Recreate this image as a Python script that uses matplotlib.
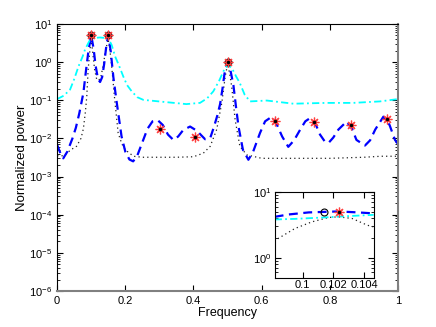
"""Normalized power spectrum estimates with a zoomed inset around f = 0.1."""

import matplotlib.pyplot as plt
from matplotlib import ticker

plt.rcParams['font.family'] = ['Liberation Sans', 'DejaVu Sans']
plt.rcParams['mathtext.default'] = 'regular'

# blue dashed estimate
BLUE_F = [0.0, 0.01, 0.018, 0.03, 0.045, 0.055, 0.065, 0.077, 0.085, 0.092,
          0.1, 0.107, 0.113, 0.12, 0.126, 0.132, 0.138, 0.144, 0.15, 0.157,
          0.165, 0.175, 0.189, 0.2, 0.212, 0.223, 0.235, 0.25, 0.265, 0.28,
          0.295, 0.31, 0.325, 0.341, 0.355, 0.37, 0.39, 0.41, 0.434, 0.449,
          0.46, 0.47, 0.478, 0.485, 0.491, 0.5, 0.508, 0.517, 0.525, 0.532,
          0.545, 0.561, 0.575, 0.595, 0.61, 0.63, 0.645, 0.66, 0.678, 0.695,
          0.713, 0.728, 0.742, 0.757, 0.771, 0.785, 0.796, 0.81, 0.825, 0.849,
          0.865, 0.878, 0.903, 0.918, 0.933, 0.957, 0.975, 0.991, 1.0]
BLUE_P = [0.0068, 0.0040, 0.0030, 0.0045, 0.010, 0.019, 0.045, 0.155, 0.63, 2.0,
          5.0, 2.24, 0.79, 0.355, 0.30, 0.40, 0.89, 2.5, 5.0, 2.0,
          0.40, 0.085, 0.0112, 0.0045, 0.0028, 0.0025, 0.0035, 0.0079, 0.0178, 0.028,
          0.030, 0.0224, 0.0126, 0.0091, 0.0112, 0.0166, 0.0204, 0.0158, 0.0095, 0.0102,
          0.020, 0.040, 0.079, 0.20, 0.50, 1.0, 0.63, 0.25, 0.063, 0.0204,
          0.0050, 0.00275, 0.0045, 0.0138, 0.028, 0.037, 0.0224, 0.0112, 0.0060, 0.0089,
          0.017, 0.028, 0.034, 0.025, 0.0126, 0.0083, 0.0076, 0.0105, 0.017, 0.0275,
          0.0178, 0.0091, 0.0065, 0.0089, 0.017, 0.037, 0.0224, 0.0091, 0.0071]

# black dotted estimate
DOT_F = [0.0, 0.02, 0.04, 0.057, 0.07, 0.077, 0.083, 0.087, 0.091, 0.096,
         0.1, 0.105, 0.11, 0.116, 0.122, 0.128, 0.135, 0.142, 0.15, 0.155,
         0.16, 0.169, 0.179, 0.19, 0.2, 0.224, 0.25, 0.3, 0.35, 0.4,
         0.429, 0.449, 0.468, 0.483, 0.493, 0.5, 0.506, 0.512, 0.522, 0.536,
         0.556, 0.6, 0.7, 0.8, 0.9, 0.95, 1.0]
DOT_P = [0.0035, 0.0035, 0.0050, 0.0062, 0.010, 0.0178, 0.050, 0.126, 0.63, 2.0,
         4.0, 1.6, 0.63, 0.355, 0.33, 0.40, 0.79, 2.0, 4.0, 2.0,
         0.78, 0.102, 0.0138, 0.0071, 0.0050, 0.0034, 0.0032, 0.0032, 0.0032, 0.0033,
         0.0041, 0.0062, 0.017, 0.085, 0.42, 0.89, 0.50, 0.23, 0.031, 0.0062,
         0.0037, 0.0030, 0.0030, 0.0030, 0.0032, 0.0034, 0.0034]

# cyan dash-dot estimate
CYAN_F = [0.0, 0.02, 0.038, 0.05, 0.063, 0.075, 0.082, 0.094, 0.1, 0.125,
          0.15, 0.16, 0.17, 0.182, 0.194, 0.205, 0.219, 0.235, 0.253, 0.32,
          0.379, 0.419, 0.44, 0.458, 0.475, 0.49, 0.502, 0.515, 0.525, 0.536,
          0.55, 0.566, 0.615, 0.693, 0.79, 0.868, 0.947, 1.0]
CYAN_P = [0.107, 0.132, 0.19, 0.355, 0.78, 1.41, 2.14, 3.47, 4.2, 4.4,
          4.2, 2.8, 1.41, 0.79, 0.42, 0.25, 0.17, 0.12, 0.102, 0.089,
          0.079, 0.085, 0.112, 0.17, 0.32, 0.63, 0.85, 0.63, 0.42, 0.28,
          0.14, 0.093, 0.098, 0.081, 0.085, 0.085, 0.093, 0.107]

# true components (circles) and estimated components (asterisks)
TRUE_F = [0.1, 0.15, 0.5]
TRUE_P = [5.0, 5.0, 1.0]
EST_F = [0.1, 0.15, 0.5, 0.303, 0.405, 0.638, 0.753, 0.861, 0.968]
EST_P = [5.0, 5.0, 1.0, 0.018, 0.011, 0.028, 0.027, 0.022, 0.033]

# zoomed inset around the first peak
IN_BLUE_F = [0.0982, 0.0991, 0.1004, 0.1023, 0.1036, 0.1046]
IN_BLUE_P = [4.19, 4.55, 4.89, 5.06, 4.89, 4.72]
IN_CYAN_F = [0.0982, 0.0995, 0.1014, 0.1029, 0.1046]
IN_CYAN_P = [3.82, 3.90, 4.10, 4.29, 4.49]
IN_DOT_F = [0.0984, 0.0995, 0.1006, 0.1017, 0.1023, 0.1032, 0.1042, 0.1046]
IN_DOT_P = [1.95, 2.78, 3.51, 4.10, 4.19, 3.96, 3.12, 2.95]
IN_TRUE_F = [0.10137]
IN_TRUE_P = [5.0]
IN_EST_F = [0.10234]
IN_EST_P = [5.0]

MAIN_YTICKS = [1e-6, 1e-5, 1e-4, 1e-3, 1e-2, 1e-1, 1e0, 1e1]
INSET_YTICKS = [1e0, 1e1]


def draw(ax, bf, bp, cf, cp, df, dp, tf, tp, ef, ep):
    ax.plot(df, dp, color='#222222', lw=0.9, linestyle=(0, (1, 2.5)))
    ax.plot(bf, bp, color='blue', lw=1.6, dashes=(4, 2.5))
    ax.plot(cf, cp, color='cyan', lw=1.3, dashes=(4, 1.8, 1, 1.8))
    ax.plot(tf, tp, 'o', mfc='none', mec='black', ms=5, mew=0.8)
    ax.plot(ef, ep, marker=(8, 2, 0), ls='none', color='#ff4040', ms=7,
            mew=0.9)
    ax.plot(ef, ep, '.', color='black', ms=3)


def style(ax, yticks, minor_decades):
    ax.set_yscale('log')
    ax.tick_params(which='both', direction='in', top=True, right=True,
                   labelsize=8)
    ax.tick_params(which='major', length=4)
    ax.tick_params(which='minor', length=2)
    ax.yaxis.set_major_locator(ticker.FixedLocator(yticks))
    ax.yaxis.set_major_formatter(ticker.LogFormatterSciNotation())
    minors = [m * t for t in minor_decades for m in range(2, 10)]
    ax.yaxis.set_minor_locator(ticker.FixedLocator(minors))
    ax.yaxis.set_minor_formatter(ticker.NullFormatter())


fig = plt.figure(figsize=(4.36, 3.27), dpi=100)
ax = fig.add_axes([0.131, 0.110, 0.782, 0.817])
draw(ax, BLUE_F, BLUE_P, CYAN_F, CYAN_P, DOT_F, DOT_P,
     TRUE_F, TRUE_P, EST_F, EST_P)
style(ax, MAIN_YTICKS, MAIN_YTICKS[:-1])
ax.set_xlim(0, 1)
ax.set_ylim(1e-6, 10)
ax.set_xticks([0, 0.2, 0.4, 0.6, 0.8, 1])
ax.set_xticklabels(['0', '0.2', '0.4', '0.6', '0.8', '1'])
ax.set_xlabel('Frequency', fontsize=9, labelpad=1)
ax.set_ylabel('Normalized power', fontsize=9.5, labelpad=1)
for side in ('bottom', 'right'):
    ax.spines[side].set_color('#808080')
    ax.spines[side].set_linewidth(1.5)
for side in ('top', 'left'):
    ax.spines[side].set_linewidth(0.8)

ins = fig.add_axes([0.630, 0.151, 0.227, 0.262])
draw(ins, IN_BLUE_F, IN_BLUE_P, IN_CYAN_F, IN_CYAN_P, IN_DOT_F, IN_DOT_P,
     IN_TRUE_F, IN_TRUE_P, IN_EST_F, IN_EST_P)
style(ins, INSET_YTICKS, [0.1, 1.0])
ins.set_xlim(0.0982, 0.1046)
ins.set_ylim(0.5, 10)
ins.set_xticks([0.1, 0.102, 0.104])
ins.set_xticklabels(['0.1', '0.102', '0.104'])
ins.tick_params(labelsize=8, pad=2)
for s in ins.spines.values():
    s.set_linewidth(0.8)

fig.savefig('out.png', dpi=100)
